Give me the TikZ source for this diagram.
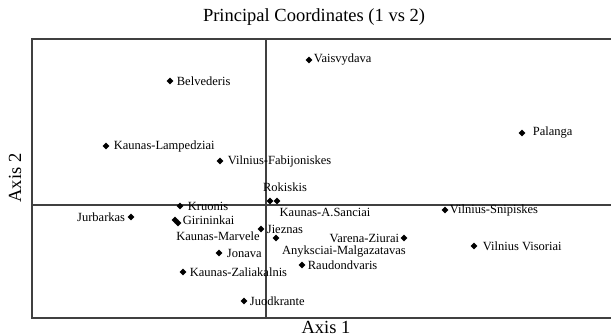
\documentclass[tikz,border=0pt]{standalone}
\usepackage{fontspec}
\setmainfont{Liberation Serif}
\usetikzlibrary{positioning}
\usetikzlibrary{shapes.geometric}
\tikzset{%
  pt/.style = {diamond,fill=black,inner sep=0pt,minimum size=7pt},
  lbl/.style = {inner sep=1pt,font=\fontsize{12.5}{14}\selectfont},
  frame/.style = {draw=black!75,line width=1.6pt}
}

\begin{document}
\begin{tikzpicture}[x=1pt,y=-1pt]
    \useasboundingbox (0,0) rectangle (611,336);
    % frame and axes
    \draw[frame] (32,39) rectangle (614,318);
    \coordinate (xl) at (32,205);
    \coordinate (xr) at (614,205);
    \coordinate (yt) at (266,39);
    \coordinate (yb) at (266,318);
    \draw[frame] (xl) -- (xr);
    \draw[frame] (yt) -- (yb);
    \node[font=\fontsize{18.5}{20}\selectfont] (title) at (314,17) {Principal Coordinates (1 vs 2)};
    \node[font=\fontsize{18.5}{20}\selectfont] (ax1) at (326,327) {Axis 1};
    \node[font=\fontsize{18.5}{20}\selectfont,rotate=90] (ax2) at (15,178) {Axis 2};
    % points
    \node[pt] (vaisvydava) at (309,60) {};
    \node[lbl,right=0pt of vaisvydava] (vaisvydavaL) {Vaisvydava};
    \node[pt] (belvederis) at (170,81) {};
    \node[lbl,right=2pt of belvederis] (belvederisL) {Belvederis};
    \node[pt] (palanga) at (522,133) {};
    \node[lbl,right=6pt of palanga] (palangaL) {Palanga};
    \node[pt] (lampedziai) at (106,146) {};
    \node[lbl,right=3pt of lampedziai] (lampedziaiL) {Kaunas-Lampedziai};
    \node[pt] (fabijoniskes) at (220,161) {};
    \node[lbl,right=3pt of fabijoniskes] (fabijoniskesL) {Vilnius-Fabijoniskes};
    \node[pt] (rokiskis) at (270,201) {};
    \node[pt] (sanciai) at (277,201) {};
    \node[lbl] (rokiskisL) at (285,187) {Rokiskis};
    \node[lbl] (sanciaiL) at (325,212) {Kaunas-A.Sanciai};
    \node[pt] (kruonis) at (180,206) {};
    \node[lbl,right=3pt of kruonis] (kruonisL) {Kruonis};
    \node[pt] (jurbarkas) at (131,217) {};
    \node[lbl,left=1pt of jurbarkas] (jurbarkasL) {Jurbarkas};
    \node[pt] (girininkai2) at (178,223) {};
    \node[pt] (girininkai) at (175,220) {};
    \node[lbl,right=3pt of girininkai] (girininkaiL) {Girininkai};
    \node[pt] (jieznas) at (261,229) {};
    \node[lbl,right=1pt of jieznas] (jieznasL) {Jieznas};
    \node[lbl] (marveleL) at (218,236) {Kaunas-Marvele};
    \node[pt] (snipiskes) at (445,210) {};
    \node[lbl,right=0pt of snipiskes] (snipiskesL) {Vilnius-Snipiskes};
    \node[pt] (anyksciai) at (276,238) {};
    \node[lbl] (anyksciaiL) at (344,252) {Anyksciai-Malgazatavas};
    \node[pt] (varena) at (404,238) {};
    \node[lbl,left=0pt of varena] (varenaL) {Varena-Ziurai};
    \node[pt] (visoriai) at (474,246) {};
    \node[lbl,right=4pt of visoriai] (visoriaiL) {Vilnius Visoriai};
    \node[pt] (jonava) at (219,253) {};
    \node[lbl,right=3pt of jonava] (jonavaL) {Jonava};
    \node[pt] (raudondvaris) at (302,265) {};
    \node[lbl,right=1pt of raudondvaris] (raudondvarisL) {Raudondvaris};
    \node[pt] (zaliakalnis) at (183,272) {};
    \node[lbl,right=2pt of zaliakalnis] (zaliakalnisL) {Kaunas-Zaliakalnis};
    \node[pt] (juodkrante) at (244,301) {};
    \node[lbl,right=1pt of juodkrante] (juodkranteL) {Juodkrante};
\end{tikzpicture}
\end{document}
